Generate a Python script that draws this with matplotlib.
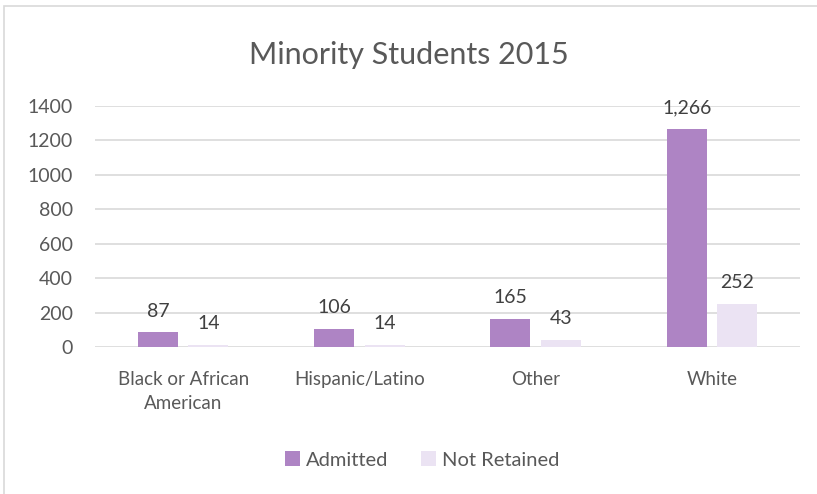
import numpy as np
import matplotlib.pyplot as plt
from matplotlib.patches import Rectangle

plt.rcParams['font.family'] = ['Lato', 'DejaVu Sans']

categories = ['Black or African\nAmerican', 'Hispanic/Latino', 'Other', 'White']
admitted = [87, 106, 165, 1266]
not_retained = [14, 14, 43, 252]

purple = '#AE84C4'
lavender = '#EBE3F3'
grey_text = '#595959'

fig = plt.figure(figsize=(8.17, 4.94), dpi=100)
# chart frame
fig.patches.append(Rectangle((4 / 817, -0.1), 1.1, (494 - 6) / 494 + 0.1,
                             transform=fig.transFigure, fill=False,
                             edgecolor='#D9D9D9', linewidth=1.2))

ax = fig.add_axes([95 / 817, (494 - 347) / 494, 705 / 817, 241 / 494])

x = np.arange(len(categories))
width = 0.227
off = 0.143
b1 = ax.bar(x - off, admitted, width, color=purple, label='Admitted', zorder=2)
b2 = ax.bar(x + off, not_retained, width, color=lavender, label='Not Retained', zorder=2)

for bars, vals in ((b1, admitted), (b2, not_retained)):
    for r, v in zip(bars, vals):
        ax.annotate(f'{v:,}', (r.get_x() + r.get_width() / 2, v),
                    xytext=(0, 9), textcoords='offset points',
                    ha='center', va='bottom', fontsize=14, color='#404040')

ax.set_xlim(-0.5, 3.5)
ax.set_ylim(0, 1400)
ax.set_yticks(range(0, 1401, 200))
ax.set_xticks(x)
ax.set_xticklabels(categories, linespacing=1.55)
ax.tick_params(axis='both', length=0, labelsize=14, colors=grey_text)
ax.tick_params(axis='x', labelsize=13.5, pad=17)
ax.tick_params(axis='y', pad=16)
ax.grid(axis='y', color='#D9D9D9', linewidth=1.2, zorder=0)
for s in ax.spines.values():
    s.set_visible(False)

fig.text(0.5, (494 - 55) / 494, 'Minority Students 2015', ha='center', va='center',
         fontsize=22, color=grey_text)

fig.legend(loc='center', bbox_to_anchor=(422 / 817, (494 - 460) / 494), ncol=2,
           frameon=False, fontsize=14.5, labelcolor=grey_text,
           handlelength=0.75, handleheight=0.75, handletextpad=0.3, columnspacing=1.6)

fig.savefig('out.png', dpi=100)
